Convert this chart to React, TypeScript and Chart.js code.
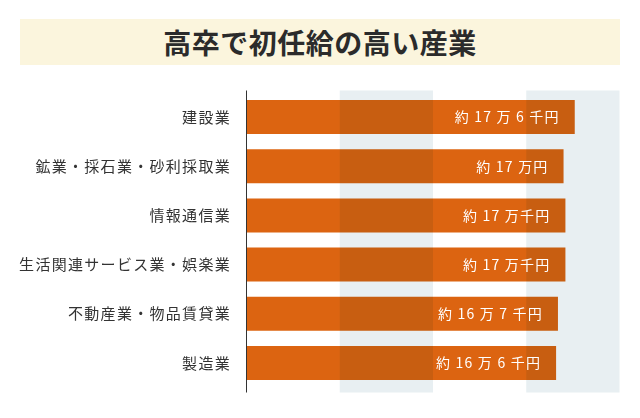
import React, { useEffect, useRef } from 'react';
import Chart from 'chart.js/auto';

const title = '高卒で初任給の高い産業';
const industries = [
	'建設業',
	'鉱業・採石業・砂利採取業',
	'情報通信業',
	'生活関連サービス業・娯楽業',
	'不動産業・物品賃貸業',
	'製造業',
];
// starting salary, in thousand yen
const salaries = [176, 170, 171, 171, 167, 166];
const salaryLabels = ['約 17 万 6 千円', '約 17 万円', '約 17 万千円', '約 17 万千円', '約 16 万 7 千円', '約 16 万 6 千円'];
const bandRanges = [[50, 100], [150, 200]];

const FONT = '"Noto Sans CJK JP", "Noto Sans", sans-serif';

const decorPlugin = {
	id: 'decor',
	afterDatasetsDraw(chart: any) {
		const { ctx, chartArea, scales } = chart;
		const top = chartArea.top - 2;
		const bottom = chartArea.bottom + 5;

		// shaded columns, multiplied over the bars
		ctx.save();
		ctx.globalCompositeOperation = 'multiply';
		ctx.fillStyle = '#e8eff2';
		bandRanges.forEach(([a, b]) => {
			const x1 = scales.x.getPixelForValue(a);
			const x2 = scales.x.getPixelForValue(b);
			ctx.fillRect(x1, top, x2 - x1, bottom - top);
		});
		ctx.restore();

		// axis line
		ctx.save();
		ctx.strokeStyle = '#333';
		ctx.lineWidth = 1;
		ctx.beginPath();
		ctx.moveTo(Math.round(chartArea.left) - 0.5, top);
		ctx.lineTo(Math.round(chartArea.left) - 0.5, bottom);
		ctx.stroke();
		ctx.restore();

		// labels
		const meta = chart.getDatasetMeta(0);
		ctx.save();
		ctx.textBaseline = 'middle';
		meta.data.forEach((bar: any, i: number) => {
			ctx.fillStyle = '#333';
			ctx.font = `15px ${FONT}`;
			ctx.textAlign = 'right';
			(ctx as any).letterSpacing = '1.3px';
			ctx.fillText(industries[i], 231, bar.y);

			ctx.fillStyle = '#fff';
			ctx.font = `14px ${FONT}`;
			(ctx as any).letterSpacing = '1.2px';
			ctx.fillText(salaryLabels[i], bar.x - 15, bar.y);
		});
		ctx.restore();
	},
};

const BarChart: React.FC = () => {
	const chartRef = useRef<HTMLCanvasElement | null>(null);
	const chartInstanceRef = useRef<Chart | null>(null);

	useEffect(() => {
		if (!chartRef.current) return;
		const ctx = chartRef.current.getContext('2d');
		if (!ctx) return;

		if (chartInstanceRef.current) {
			chartInstanceRef.current.destroy();
		}

		chartInstanceRef.current = new Chart(ctx, {
			type: 'bar',
			data: {
				labels: industries,
				datasets: [
					{
						data: salaries,
						backgroundColor: '#dc6411',
						borderWidth: 0,
						categoryPercentage: 0.69,
						barPercentage: 1,
					},
				],
			},
			options: {
				indexAxis: 'y',
				animation: false,
				responsive: false,
				maintainAspectRatio: false,
				layout: {
					padding: { left: 246.5, right: 20.5, top: 92.5, bottom: 30.5 },
				},
				scales: {
					x: { display: false, min: 0, max: 200 },
					y: { display: false },
				},
				plugins: {
					legend: { display: false },
					tooltip: { enabled: false },
					title: { display: false },
				},
			},
			plugins: [decorPlugin],
		});

		return () => {
			if (chartInstanceRef.current) {
				chartInstanceRef.current.destroy();
				chartInstanceRef.current = null;
			}
		};
	}, []);

	return <canvas ref={chartRef} width={640} height={418} style={{ position: 'absolute', left: 0, top: 0 }} />;
};

const App: React.FC = () => {
	return (
		<div style={{ position: 'fixed', left: 0, top: 0, width: 640, height: 418, background: '#fff' }}>
			<BarChart />
			<div
				style={{
					position: 'absolute',
					left: 20,
					top: 19,
					width: 600,
					height: 46,
					background: '#fbf5dd',
					color: '#2b2b2b',
					fontFamily: FONT,
					fontWeight: 700,
					fontSize: 28,
					lineHeight: '46px',
					textAlign: 'center',
					letterSpacing: 0.5,
				}}
			>
				{title}
			</div>
		</div>
	);
};

export default App;
